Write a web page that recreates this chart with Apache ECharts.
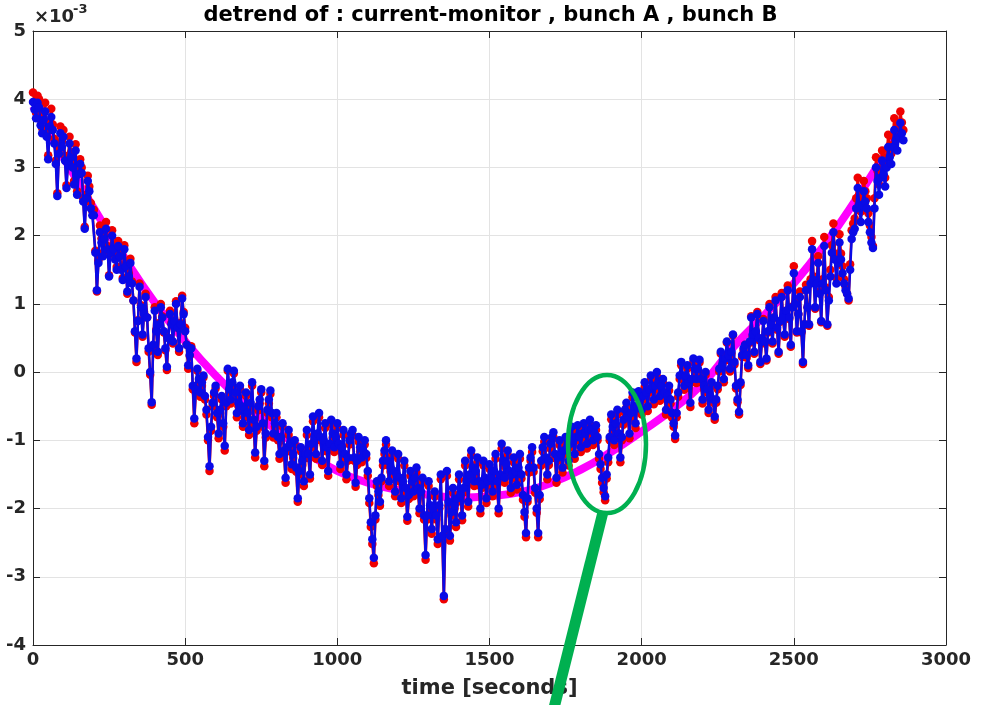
<!DOCTYPE html>
<html>
<head>
<meta charset="utf-8">
<script src="https://cdn.jsdelivr.net/npm/echarts@6/dist/echarts.min.js"></script>
<style>
  html, body { margin: 0; padding: 0; background: #ffffff; }
  #chart { width: 981px; height: 705px; }
</style>
</head>
<body>
<div id="chart"></div>
<script>
// Acquisition grid: one sample every 5 s, starting at t = 0
const sampleStep = 5;

// Detrended current-monitor signal, bunch A (values in units of 1e-3), 100 s per row
const bunchA = [
  4.10, 3.95, 3.80, 4.05, 4.00, 3.70, 3.58, 3.80, 3.95, 3.52, 3.18, 3.68, 3.86, 3.63, 3.42, 3.10, 2.62, 3.26, 3.60, 3.38,
  3.55, 3.17, 2.74, 3.12, 3.45, 3.22, 3.08, 2.80, 3.34, 2.65, 2.98, 3.12, 3.00, 2.55, 2.13, 2.60, 2.88, 2.72, 2.48, 2.36,
  2.38, 1.78, 1.18, 1.64, 2.15, 1.96, 1.75, 2.02, 2.20, 1.85, 1.42, 1.80, 2.08, 1.86, 1.70, 1.54, 1.92, 1.76, 1.55, 1.38,
  1.86, 1.58, 1.15, 1.44, 1.66, 1.33, 1.05, 0.58, 0.15, 0.76, 1.30, 0.98, 0.52, 0.88, 1.15, 0.80, 0.30, -0.04, -0.48, 0.38,
  0.95, 0.62, 0.25, 0.72, 1.00, 0.82, 0.58, 0.32, 0.03, 0.50, 0.90, 0.72, 0.42, 0.76, 1.04, 0.65, 0.30, 0.72, 1.12, 0.88,
  0.65, 0.40, 0.05, 0.24, 0.38, -0.25, -0.75, -0.30, 0.02, -0.15, -0.36, -0.20, -0.08, -0.40, -0.62, -1.00, -1.45, -0.86, -0.50, -0.35,
  -0.24, -0.66, -0.97, -0.60, -0.40, -0.80, -1.15, -0.50, 0.02, -0.30, -0.46, -0.20, -0.02, -0.35, -0.66, -0.50, -0.25, -0.56, -0.80, -0.60,
  -0.35, -0.66, -0.92, -0.50, -0.20, -0.76, -1.25, -0.86, -0.56, -0.46, -0.30, -0.80, -1.38, -0.96, -0.60, -0.46, -0.32, -0.66, -0.96, -0.80,
  -0.66, -1.00, -1.27, -1.00, -0.80, -1.20, -1.62, -1.16, -0.92, -1.10, -1.42, -1.26, -1.06, -1.46, -1.90, -1.50, -1.16, -1.36, -1.67, -1.26,
  -0.92, -1.26, -1.56, -1.10, -0.72, -1.00, -1.27, -0.96, -0.66, -1.00, -1.36, -1.06, -0.82, -1.16, -1.52, -1.10, -0.76, -0.96, -1.17, -1.00,
  -0.82, -1.10, -1.42, -1.16, -0.92, -1.26, -1.57, -1.30, -1.06, -0.96, -0.92, -1.30, -1.68, -1.36, -1.02, -1.16, -1.32, -1.20, -1.06, -1.26,
  -1.52, -1.92, -2.27, -2.52, -2.80, -2.16, -1.67, -1.80, -1.96, -1.60, -1.37, -1.20, -1.06, -1.36, -1.67, -1.46, -1.22, -1.50, -1.82, -1.56,
  -1.27, -1.60, -1.92, -1.66, -1.37, -1.76, -2.18, -1.86, -1.52, -1.66, -1.82, -1.60, -1.47, -1.76, -2.07, -1.80, -1.62, -2.16, -2.75, -2.16,
  -1.67, -2.00, -2.37, -2.06, -1.82, -2.16, -2.52, -2.00, -1.57, -2.46, -3.33, -2.36, -1.52, -1.96, -2.47, -2.10, -1.77, -2.00, -2.27, -1.90,
  -1.57, -1.86, -2.17, -1.76, -1.37, -1.66, -1.97, -1.56, -1.22, -1.46, -1.67, -1.50, -1.32, -1.66, -2.07, -1.70, -1.37, -1.60, -1.92, -1.66,
  -1.42, -1.60, -1.82, -1.50, -1.27, -1.66, -2.07, -1.56, -1.12, -1.36, -1.62, -1.40, -1.22, -1.50, -1.77, -1.56, -1.32, -1.50, -1.72, -1.46,
  -1.27, -1.56, -1.87, -2.12, -2.42, -1.90, -1.47, -1.30, -1.17, -1.46, -1.77, -2.06, -2.42, -1.86, -1.37, -1.16, -1.02, -1.30, -1.57, -1.36,
  -1.12, -1.00, -0.95, -1.26, -1.62, -1.30, -1.07, -1.26, -1.47, -1.20, -1.02, -1.16, -1.37, -1.10, -0.87, -1.06, -1.27, -1.00, -0.85, -1.00,
  -1.17, -0.96, -0.82, -0.96, -1.12, -0.90, -0.77, -0.90, -1.07, -0.96, -0.85, -1.00, -1.27, -1.42, -1.62, -1.76, -1.88, -1.56, -1.32, -1.00,
  -0.69, -0.86, -1.07, -0.80, -0.62, -0.96, -1.32, -1.00, -0.77, -0.60, -0.52, -0.70, -0.97, -0.66, -0.37, -0.56, -0.82, -0.56, -0.35, -0.46,
  -0.62, -0.40, -0.22, -0.36, -0.57, -0.30, -0.12, -0.26, -0.47, -0.26, -0.06, -0.20, -0.42, -0.26, -0.16, -0.36, -0.62, -0.40, -0.27, -0.46,
  -0.67, -0.80, -0.98, -0.66, -0.36, -0.10, 0.10, -0.10, -0.26, -0.10, 0.05, -0.20, -0.51, -0.15, 0.15, 0.00, -0.16, 0.00, 0.14, -0.15,
  -0.46, -0.25, -0.04, -0.30, -0.60, -0.40, -0.20, -0.45, -0.70, -0.45, -0.25, 0.01, 0.27, 0.06, -0.15, 0.17, 0.43, 0.21, 0.01, 0.27,
  0.54, 0.11, -0.24, -0.44, -0.62, -0.19, 0.22, 0.32, 0.40, 0.21, 0.06, 0.43, 0.82, 0.52, 0.27, 0.58, 0.88, 0.47, 0.12, 0.43,
  0.78, 0.42, 0.17, 0.58, 1.00, 0.68, 0.42, 0.80, 1.10, 0.62, 0.27, 0.74, 1.16, 0.78, 0.52, 0.90, 1.27, 0.78, 0.37, 0.96,
  1.55, 1.02, 0.58, 0.85, 1.18, 0.58, 0.12, 0.70, 1.28, 0.95, 0.68, 1.36, 1.92, 1.40, 0.93, 1.36, 1.70, 1.18, 0.73, 1.36,
  1.98, 1.24, 0.68, 1.10, 1.50, 1.86, 2.18, 1.74, 1.38, 1.70, 2.02, 1.74, 1.55, 1.36, 1.25, 1.15, 1.05, 1.58, 2.08, 2.18,
  2.25, 2.55, 2.85, 2.60, 2.35, 2.60, 2.80, 2.65, 2.55, 2.33, 2.15, 1.98, 1.85, 2.55, 3.15, 2.95, 2.75, 3.00, 3.25, 3.05,
  2.85, 3.15, 3.48, 3.32, 3.20, 3.46, 3.72, 3.56, 3.42, 3.62, 3.82, 3.66, 3.55
];

// Detrended current-monitor signal, bunch B (values in units of 1e-3), 100 s per row
const bunchB = [
  3.96, 3.85, 3.72, 3.95, 3.88, 3.62, 3.50, 3.70, 3.82, 3.45, 3.12, 3.60, 3.74, 3.55, 3.35, 3.05, 2.58, 3.20, 3.50, 3.30,
  3.45, 3.10, 2.70, 3.05, 3.35, 3.15, 3.00, 2.75, 3.25, 2.60, 2.90, 3.05, 2.92, 2.50, 2.10, 2.55, 2.80, 2.65, 2.40, 2.30,
  2.30, 1.75, 1.20, 1.60, 2.05, 1.90, 1.70, 1.95, 2.10, 1.80, 1.40, 1.75, 2.00, 1.80, 1.65, 1.50, 1.85, 1.70, 1.50, 1.35,
  1.80, 1.55, 1.18, 1.40, 1.60, 1.30, 1.05, 0.60, 0.20, 0.75, 1.25, 0.95, 0.55, 0.85, 1.10, 0.80, 0.35, 0.00, -0.44, 0.40,
  0.90, 0.60, 0.30, 0.70, 0.95, 0.80, 0.60, 0.35, 0.08, 0.50, 0.85, 0.70, 0.45, 0.75, 1.00, 0.65, 0.35, 0.70, 1.08, 0.85,
  0.60, 0.40, 0.10, 0.25, 0.35, -0.20, -0.68, -0.25, 0.05, -0.10, -0.30, -0.15, -0.05, -0.35, -0.55, -0.95, -1.38, -0.80, -0.45, -0.30,
  -0.20, -0.60, -0.90, -0.55, -0.35, -0.75, -1.08, -0.45, 0.05, -0.25, -0.40, -0.15, 0.02, -0.30, -0.60, -0.45, -0.20, -0.50, -0.75, -0.55,
  -0.30, -0.60, -0.85, -0.45, -0.15, -0.70, -1.18, -0.80, -0.50, -0.40, -0.25, -0.75, -1.30, -0.90, -0.55, -0.40, -0.27, -0.60, -0.90, -0.75,
  -0.60, -0.95, -1.20, -0.95, -0.75, -1.15, -1.55, -1.10, -0.85, -1.05, -1.35, -1.20, -1.00, -1.40, -1.85, -1.45, -1.10, -1.30, -1.60, -1.20,
  -0.85, -1.20, -1.50, -1.05, -0.65, -0.95, -1.20, -0.90, -0.60, -0.95, -1.30, -1.00, -0.75, -1.10, -1.45, -1.05, -0.70, -0.90, -1.10, -0.95,
  -0.75, -1.05, -1.35, -1.10, -0.85, -1.20, -1.50, -1.25, -1.00, -0.90, -0.85, -1.25, -1.62, -1.30, -0.95, -1.10, -1.25, -1.15, -1.00, -1.20,
  -1.45, -1.85, -2.20, -2.45, -2.72, -2.10, -1.60, -1.75, -1.90, -1.55, -1.30, -1.15, -1.00, -1.30, -1.60, -1.40, -1.15, -1.45, -1.75, -1.50,
  -1.20, -1.55, -1.85, -1.60, -1.30, -1.70, -2.12, -1.80, -1.45, -1.60, -1.75, -1.55, -1.40, -1.70, -2.00, -1.75, -1.55, -2.10, -2.68, -2.10,
  -1.60, -1.95, -2.30, -2.00, -1.75, -2.10, -2.45, -1.95, -1.50, -2.40, -3.28, -2.30, -1.45, -1.90, -2.40, -2.05, -1.70, -1.95, -2.20, -1.85,
  -1.50, -1.80, -2.10, -1.70, -1.30, -1.60, -1.90, -1.50, -1.15, -1.40, -1.60, -1.45, -1.25, -1.60, -2.00, -1.65, -1.30, -1.55, -1.85, -1.60,
  -1.35, -1.55, -1.75, -1.45, -1.20, -1.60, -2.00, -1.50, -1.05, -1.30, -1.55, -1.35, -1.15, -1.45, -1.70, -1.50, -1.25, -1.45, -1.65, -1.40,
  -1.20, -1.50, -1.80, -2.05, -2.36, -1.85, -1.40, -1.25, -1.10, -1.40, -1.70, -2.00, -2.36, -1.80, -1.30, -1.10, -0.95, -1.25, -1.50, -1.30,
  -1.05, -0.95, -0.88, -1.20, -1.55, -1.25, -1.00, -1.20, -1.40, -1.15, -0.95, -1.10, -1.30, -1.05, -0.80, -1.00, -1.20, -0.95, -0.78, -0.95,
  -1.10, -0.90, -0.75, -0.90, -1.05, -0.85, -0.70, -0.85, -1.00, -0.90, -0.78, -0.95, -1.20, -1.35, -1.55, -1.70, -1.82, -1.50, -1.25, -0.95,
  -0.62, -0.80, -1.00, -0.75, -0.55, -0.90, -1.25, -0.95, -0.70, -0.55, -0.45, -0.65, -0.90, -0.60, -0.30, -0.50, -0.75, -0.50, -0.28, -0.40,
  -0.55, -0.35, -0.15, -0.30, -0.50, -0.25, -0.05, -0.20, -0.40, -0.20, 0.00, -0.15, -0.35, -0.20, -0.10, -0.30, -0.55, -0.35, -0.20, -0.40,
  -0.60, -0.75, -0.93, -0.60, -0.30, -0.05, 0.15, -0.05, -0.20, -0.05, 0.10, -0.15, -0.45, -0.10, 0.20, 0.05, -0.10, 0.05, 0.18, -0.10,
  -0.40, -0.20, 0.00, -0.25, -0.55, -0.35, -0.15, -0.40, -0.65, -0.40, -0.20, 0.05, 0.30, 0.10, -0.10, 0.20, 0.45, 0.25, 0.05, 0.30,
  0.55, 0.15, -0.20, -0.40, -0.58, -0.15, 0.25, 0.35, 0.40, 0.25, 0.10, 0.45, 0.80, 0.55, 0.30, 0.60, 0.85, 0.50, 0.15, 0.45,
  0.75, 0.45, 0.20, 0.60, 0.95, 0.70, 0.45, 0.80, 1.05, 0.65, 0.30, 0.75, 1.10, 0.80, 0.55, 0.90, 1.20, 0.80, 0.40, 0.95,
  1.45, 1.00, 0.60, 0.85, 1.10, 0.60, 0.15, 0.70, 1.20, 0.95, 0.70, 1.30, 1.80, 1.35, 0.95, 1.30, 1.60, 1.15, 0.75, 1.30,
  1.85, 1.20, 0.70, 1.05, 1.40, 1.75, 2.05, 1.65, 1.30, 1.60, 1.90, 1.65, 1.45, 1.30, 1.20, 1.15, 1.08, 1.50, 1.95, 2.05,
  2.10, 2.40, 2.70, 2.45, 2.20, 2.45, 2.65, 2.50, 2.40, 2.20, 2.05, 1.90, 1.82, 2.40, 3.00, 2.80, 2.60, 2.85, 3.10, 2.90,
  2.72, 3.00, 3.30, 3.15, 3.05, 3.30, 3.55, 3.40, 3.25, 3.45, 3.65, 3.50, 3.40
];

// Fitted trend (units of 1e-3)
const trendTime = [0, 100, 200, 300, 400, 500, 600, 700, 800, 900, 1000, 1100, 1200, 1300, 1400,
  1500, 1600, 1700, 1800, 1900, 2000, 2100, 2200, 2300, 2400, 2500, 2600, 2700, 2800, 2860];
const trendValue = [3.90, 3.15, 2.40, 1.68, 1.02, 0.45, -0.05, -0.48, -0.85, -1.18, -1.45, -1.62, -1.73, -1.80, -1.84,
  -1.82, -1.76, -1.63, -1.43, -1.17, -0.87, -0.55, -0.17, 0.36, 0.82, 1.30, 1.86, 2.50, 3.20, 3.62];

// Axis ticks
const xTicks = { min: 0, max: 3000, step: 500 };
const yTicks = { min: -4, max: 5, step: 1 };

const textColor = '#262626';
const gridColor = '#e3e3e3';
const fontFamily = '"DejaVu Sans", sans-serif';

const toPairs = (vals) => vals.map((v, i) => [i * sampleStep, v]);
const trendPairs = trendTime.map((t, i) => [t, trendValue[i]]);

const chart = echarts.init(document.getElementById('chart'), null, { renderer: 'canvas' });

const axisLine = { show: true, onZero: false, lineStyle: { color: textColor, width: 1 } };
const tick = { show: true, inside: true, length: 7, lineStyle: { color: textColor } };
const label = {
  color: textColor, fontSize: 18, fontWeight: 'bold', fontFamily: fontFamily,
  formatter: (v) => String(v)
};

chart.setOption({
  animation: false,
  backgroundColor: '#ffffff',
  title: {
    text: 'detrend of : current-monitor , bunch A , bunch B',
    left: 'center',
    top: 0,
    textStyle: { color: '#000000', fontSize: 21, fontWeight: 'bold', fontFamily: fontFamily }
  },
  grid: { left: 33, right: 35, top: 31, bottom: 60, containLabel: false },
  xAxis: [
    {
      type: 'value', position: 'bottom',
      min: xTicks.min, max: xTicks.max, interval: xTicks.step,
      name: 'time [seconds]', nameLocation: 'middle', nameGap: 33,
      nameTextStyle: { color: textColor, fontSize: 21, fontWeight: 'bold', fontFamily: fontFamily },
      axisLine: axisLine, axisTick: tick,
      axisLabel: Object.assign({ margin: 6 }, label),
      splitLine: { show: true, lineStyle: { color: gridColor, width: 1 } }
    },
    {
      type: 'value', position: 'top',
      min: xTicks.min, max: xTicks.max, interval: xTicks.step,
      axisLine: axisLine, axisTick: tick,
      axisLabel: { show: false }, splitLine: { show: false }
    }
  ],
  yAxis: [
    {
      type: 'value', position: 'left',
      min: yTicks.min, max: yTicks.max, interval: yTicks.step,
      axisLine: axisLine, axisTick: tick,
      axisLabel: Object.assign({ margin: 7 }, label),
      splitLine: { show: true, lineStyle: { color: gridColor, width: 1 } }
    },
    {
      type: 'value', position: 'right',
      min: yTicks.min, max: yTicks.max, interval: yTicks.step,
      axisLine: axisLine, axisTick: tick,
      axisLabel: { show: false }, splitLine: { show: false }
    }
  ],
  series: [
    {
      name: 'trend', type: 'line', data: trendPairs, z: 2,
      showSymbol: false, smooth: true,
      lineStyle: { color: '#ff00ff', width: 8 }
    },
    {
      name: 'bunch A', type: 'line', data: toPairs(bunchA), z: 3,
      symbol: 'circle', symbolSize: 8.5, showAllSymbol: true, sampling: false,
      itemStyle: { color: '#f00000' },
      lineStyle: { color: '#f00000', width: 2.5 }
    },
    {
      name: 'bunch B', type: 'line', data: toPairs(bunchB), z: 4,
      symbol: 'circle', symbolSize: 8.5, showAllSymbol: true, sampling: false,
      itemStyle: { color: '#0a0ae6' },
      lineStyle: { color: '#0a0ae6', width: 2.5 }
    }
  ],
  graphic: [
    {
      type: 'text', left: 34, top: 8, z: 10,
      style: { text: '×10', fill: textColor, font: 'bold 18px "DejaVu Sans", sans-serif' }
    },
    {
      type: 'text', left: 73, top: 3, z: 10,
      style: { text: '-3', fill: textColor, font: 'bold 13px "DejaVu Sans", sans-serif' }
    },
    {
      type: 'ellipse', z: 20,
      shape: { cx: 607, cy: 444, rx: 39, ry: 69 },
      style: { fill: 'none', stroke: '#00b050', lineWidth: 4.5 }
    },
    {
      type: 'line', z: 20,
      shape: { x1: 603, y1: 512, x2: 553, y2: 712 },
      style: { stroke: '#00b050', lineWidth: 11 }
    }
  ]
});
</script>
</body>
</html>
